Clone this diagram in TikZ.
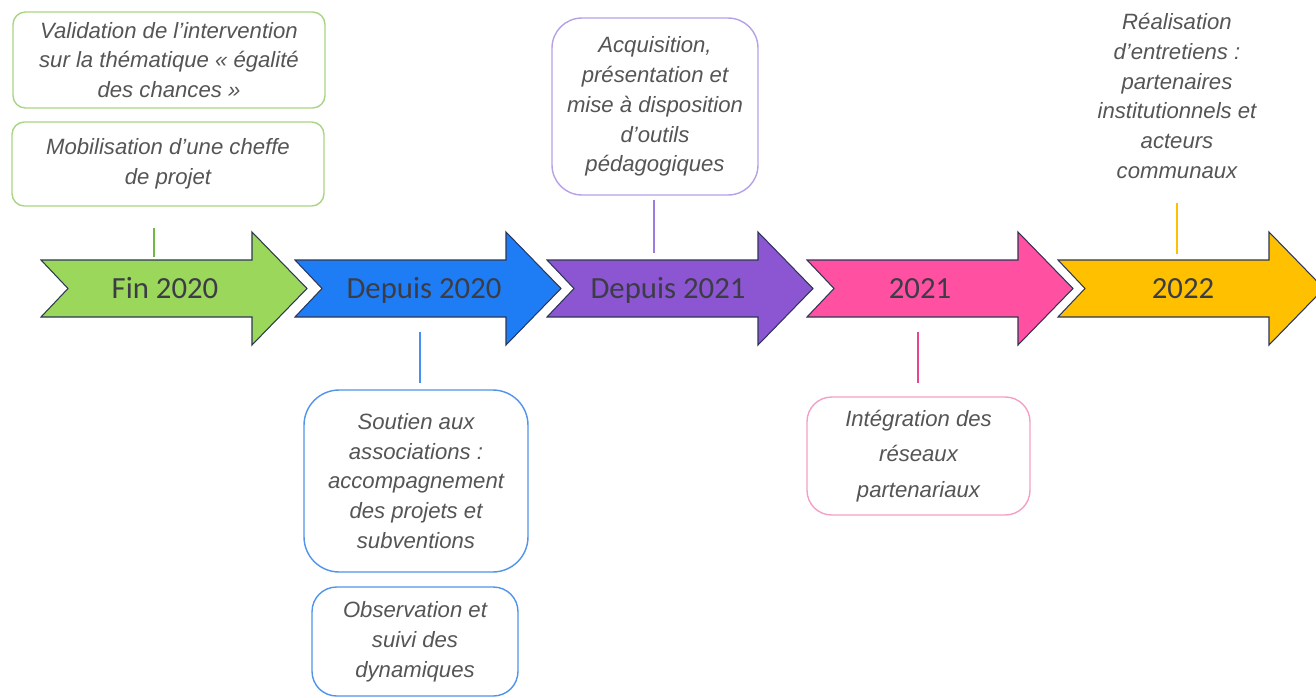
\documentclass[tikz,border=0pt]{standalone}
\usepackage{fontspec}
\setmainfont{Liberation Sans}
\newfontfamily\calibri{Carlito}
\usepackage{xcolor}
\usepackage{tikz}
\usetikzlibrary{calc}

\definecolor{cvert}{RGB}{155,215,90}
\definecolor{cbleu}{RGB}{30,125,245}
\definecolor{cviolet}{RGB}{140,85,210}
\definecolor{crose}{RGB}{255,80,162}
\definecolor{cjaune}{RGB}{255,192,0}
\definecolor{contour}{RGB}{45,55,85}
\definecolor{bvert}{RGB}{169,212,130}
\definecolor{bbleu}{RGB}{80,148,235}
\definecolor{bviolet}{RGB}{184,160,232}
\definecolor{brose}{RGB}{244,160,198}
\definecolor{lvert}{RGB}{112,185,70}
\definecolor{lbleu}{RGB}{70,145,240}
\definecolor{lviolet}{RGB}{155,125,225}
\definecolor{lrose}{RGB}{232,70,140}
\definecolor{gtexte}{RGB}{85,85,85}
\definecolor{gannee}{RGB}{60,60,70}

\tikzset{
  texte/.style={align=center, text=gtexte, font=\fontsize{12.6}{17}\selectfont\itshape},
  boite/.style={texte, draw=#1, rounded corners=7pt, line width=0.8pt, fill=white, inner sep=0pt},
  annee/.style={anchor=base, text=gannee, font=\calibri\fontsize{17.5}{21}\selectfont},
  lien/.style={draw=#1, line width=0.9pt},
  fleche/.style={fill=#1, draw=contour, line width=0.6pt, line join=miter},
}

\begin{document}
\begin{tikzpicture}[x=0.02cm, y=-0.02cm]
\useasboundingbox (0,0) rectangle (1316,697);

\foreach \l/\tx/\c/\t/\n in {41/165/cvert/Fin 2020/fin, 295/424/cbleu/Depuis 2020/dep20, 547/668/cviolet/Depuis 2021/dep21, 807/920/crose/2021/an21, 1058/1183/cjaune/2022/an22} {
  \draw[fleche=\c] (\l,260) -- (\l+211,260) -- (\l+211,232) -- (\l+266,288.5) -- (\l+211,345) -- (\l+211,317) -- (\l,317) -- (\l+27,288.5) -- cycle;
  \node[annee] (\n) at (\tx,298) {\t};
}

\node[boite=bvert, minimum width=6.24cm, minimum height=1.92cm] (valid) at (169,60) {Validation de l’intervention\\sur la thématique « égalité\\des chances »};
\node[boite=bvert, minimum width=6.24cm, minimum height=1.68cm] (mobil) at (168,164) {Mobilisation d’une cheffe\\de projet};
\node[boite=bbleu, rounded corners=20pt, minimum width=4.48cm, minimum height=3.64cm] (soutien) at (416,481) {Soutien aux\\associations :\\accompagnement\\des projets et\\subventions};
\node[boite=bbleu, rounded corners=14pt, minimum width=4.12cm, minimum height=2.18cm] (observ) at (415,641.5) {Observation et\\suivi des\\dynamiques};
\node[boite=bviolet, rounded corners=17pt, minimum width=4.12cm, minimum height=3.54cm] (acquis) at (655,106.5) {Acquisition,\\présentation et\\mise à disposition\\d’outils\\pédagogiques};
\node[boite=brose, rounded corners=14pt, minimum width=4.46cm, minimum height=2.36cm, font=\fontsize{12.6}{20}\selectfont\itshape] (integr) at (918.5,456) {Intégration des\\réseaux\\partenariaux};
\node[texte] (realis) at (1177,96) {Réalisation\\d’entretiens :\\partenaires\\institutionnels et\\acteurs\\communaux};

\foreach \x/\ya/\yb/\c/\n in {154/228/257/lvert/g, 420/332/383/lbleu/b, 654/200/253/lviolet/v, 918/332/383/lrose/r, 1177/203/254/cjaune/j} {
  \coordinate (\n1) at (\x,\ya);
  \coordinate (\n2) at (\x,\yb);
  \draw[lien=\c] (\n1) -- (\n2);
}
\end{tikzpicture}
\end{document}
